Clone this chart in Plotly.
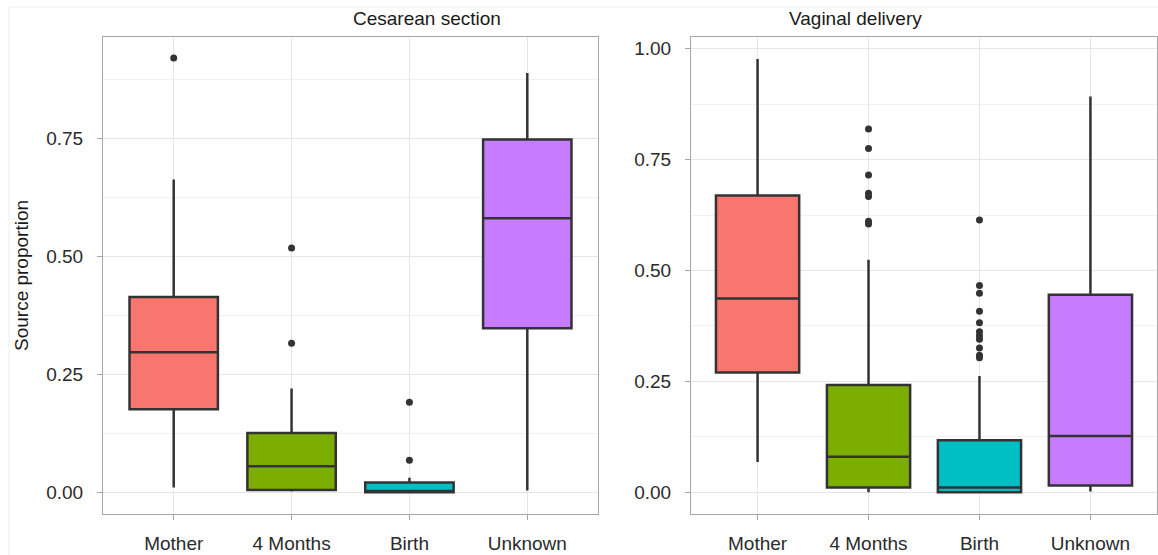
import plotly.graph_objects as go

# Source categories and their fill colours
categories = ["Mother", "4 Months", "Birth", "Unknown"]
fill_colors = ["#F8766D", "#7CAE00", "#00BFC4", "#C77CFF"]

# Cesarean section: box statistics per source
ces_lower = [0.010, 0.0015, 0.000, 0.004]
ces_q1 = [0.176, 0.005, 0.000, 0.348]
ces_median = [0.297, 0.055, 0.003, 0.581]
ces_q3 = [0.414, 0.126, 0.021, 0.748]
ces_upper = [0.663, 0.220, 0.031, 0.889]
ces_out_cat = ["Mother", "4 Months", "4 Months", "Birth", "Birth"]
ces_out_val = [0.921, 0.518, 0.316, 0.191, 0.068]

# Vaginal delivery: box statistics per source
vag_lower = [0.068, 0.000, 0.000, 0.0016]
vag_q1 = [0.270, 0.0106, 0.000, 0.015]
vag_median = [0.437, 0.080, 0.0106, 0.127]
vag_q3 = [0.669, 0.242, 0.117, 0.445]
vag_upper = [0.977, 0.524, 0.262, 0.892]
vag_out_cat = ["4 Months"] * 7 + ["Birth"] * 11
vag_out_val = [0.819, 0.775, 0.715, 0.674, 0.667, 0.611, 0.605,
               0.614, 0.466, 0.4485, 0.408, 0.382, 0.362, 0.353, 0.345,
               0.325, 0.309, 0.303]

y_ticks = [0.0, 0.25, 0.5, 0.75, 1.0]
y_tick_text = ["0.00", "0.25", "0.50", "0.75", "1.00"]

W, H = 1158, 555
LINE = "#333333"
FONT = "Liberation Sans, Arial, Helvetica"

fig = go.Figure()


def add_panel(xa, ya, lower, q1, med, q3, upper, out_cat, out_val):
    for i, cat in enumerate(categories):
        fig.add_trace(go.Box(
            x=[cat], lowerfence=[lower[i]], q1=[q1[i]], median=[med[i]],
            q3=[q3[i]], upperfence=[upper[i]],
            fillcolor=fill_colors[i],
            line=dict(color=LINE, width=2.5),
            whiskerwidth=0, width=0.75, boxpoints=False,
            xaxis=xa, yaxis=ya, showlegend=False,
        ))
    fig.add_trace(go.Scatter(
        x=out_cat, y=out_val, mode="markers",
        marker=dict(color=LINE, size=7),
        xaxis=xa, yaxis=ya, showlegend=False,
    ))


add_panel("x", "y", ces_lower, ces_q1, ces_median, ces_q3, ces_upper,
          ces_out_cat, ces_out_val)
add_panel("x2", "y2", vag_lower, vag_q1, vag_median, vag_q3, vag_upper,
          vag_out_cat, vag_out_val)

top = 1 - 36.7 / H
bottom = 1 - 514 / H
left_dom = [103 / W, 598 / W]
right_dom = [691 / W, 1157 / W]

axis_common = dict(
    showline=True, mirror=True, linecolor="#a6a6a6", linewidth=1,
    ticks="outside", ticklen=5, tickcolor="#a6a6a6",
    gridcolor="#e6e6e6", gridwidth=1, zeroline=False,
    tickfont=dict(family=FONT, size=19, color="#2b2b2b"),
    automargin=False,
)

xcommon = dict(axis_common, type="category", categoryorder="array",
               categoryarray=categories, range=[-0.6, 3.6],
               ticklabelstandoff=7)

minor_grid = dict(showgrid=True, gridcolor="#f1f1f1",
                  tickvals=[0.125, 0.375, 0.625, 0.875])

fig.update_layout(
    width=W, height=H,
    margin=dict(l=0, r=0, t=0, b=0),
    paper_bgcolor="white", plot_bgcolor="white",
    boxmode="overlay",
    xaxis=dict(xcommon, domain=left_dom, anchor="y"),
    xaxis2=dict(xcommon, domain=right_dom, anchor="y2"),
    yaxis=dict(axis_common, domain=[bottom, top], anchor="x",
               range=[-0.046, 0.966], tickvals=y_ticks[:4],
               ticktext=y_tick_text[:4], ticklabelstandoff=10,
               minor=minor_grid),
    yaxis2=dict(axis_common, domain=[bottom, top], anchor="x2",
                range=[-0.049, 1.027], tickvals=y_ticks,
                ticktext=y_tick_text, ticklabelstandoff=10,
                minor=minor_grid),
    font=dict(family=FONT, color="#1a1a1a"),
)

# faint frame around the whole figure
fig.add_shape(type="rect", xref="paper", yref="paper",
              x0=9 / W, x1=1.01, y0=-0.01, y1=1 - 7 / H,
              line=dict(color="#efefef", width=1), layer="below")

title_font = dict(family=FONT, size=19, color="#1a1a1a")
fig.add_annotation(text="Cesarean section", xref="paper", yref="paper",
                   x=(left_dom[0] + left_dom[1]) / 2, y=1 - 19 / H,
                   showarrow=False, font=title_font, yanchor="middle")
fig.add_annotation(text="Vaginal delivery", xref="paper", yref="paper",
                   x=(right_dom[0] + right_dom[1]) / 2, y=1 - 19 / H,
                   showarrow=False, font=title_font, yanchor="middle")
fig.add_annotation(text="Source proportion", xref="paper", yref="paper",
                   x=21 / W, y=1 - 276 / H, textangle=-90,
                   showarrow=False, font=dict(family=FONT, size=19, color="#1a1a1a"),
                   xanchor="center", yanchor="middle")

fig.write_html("out.html")
